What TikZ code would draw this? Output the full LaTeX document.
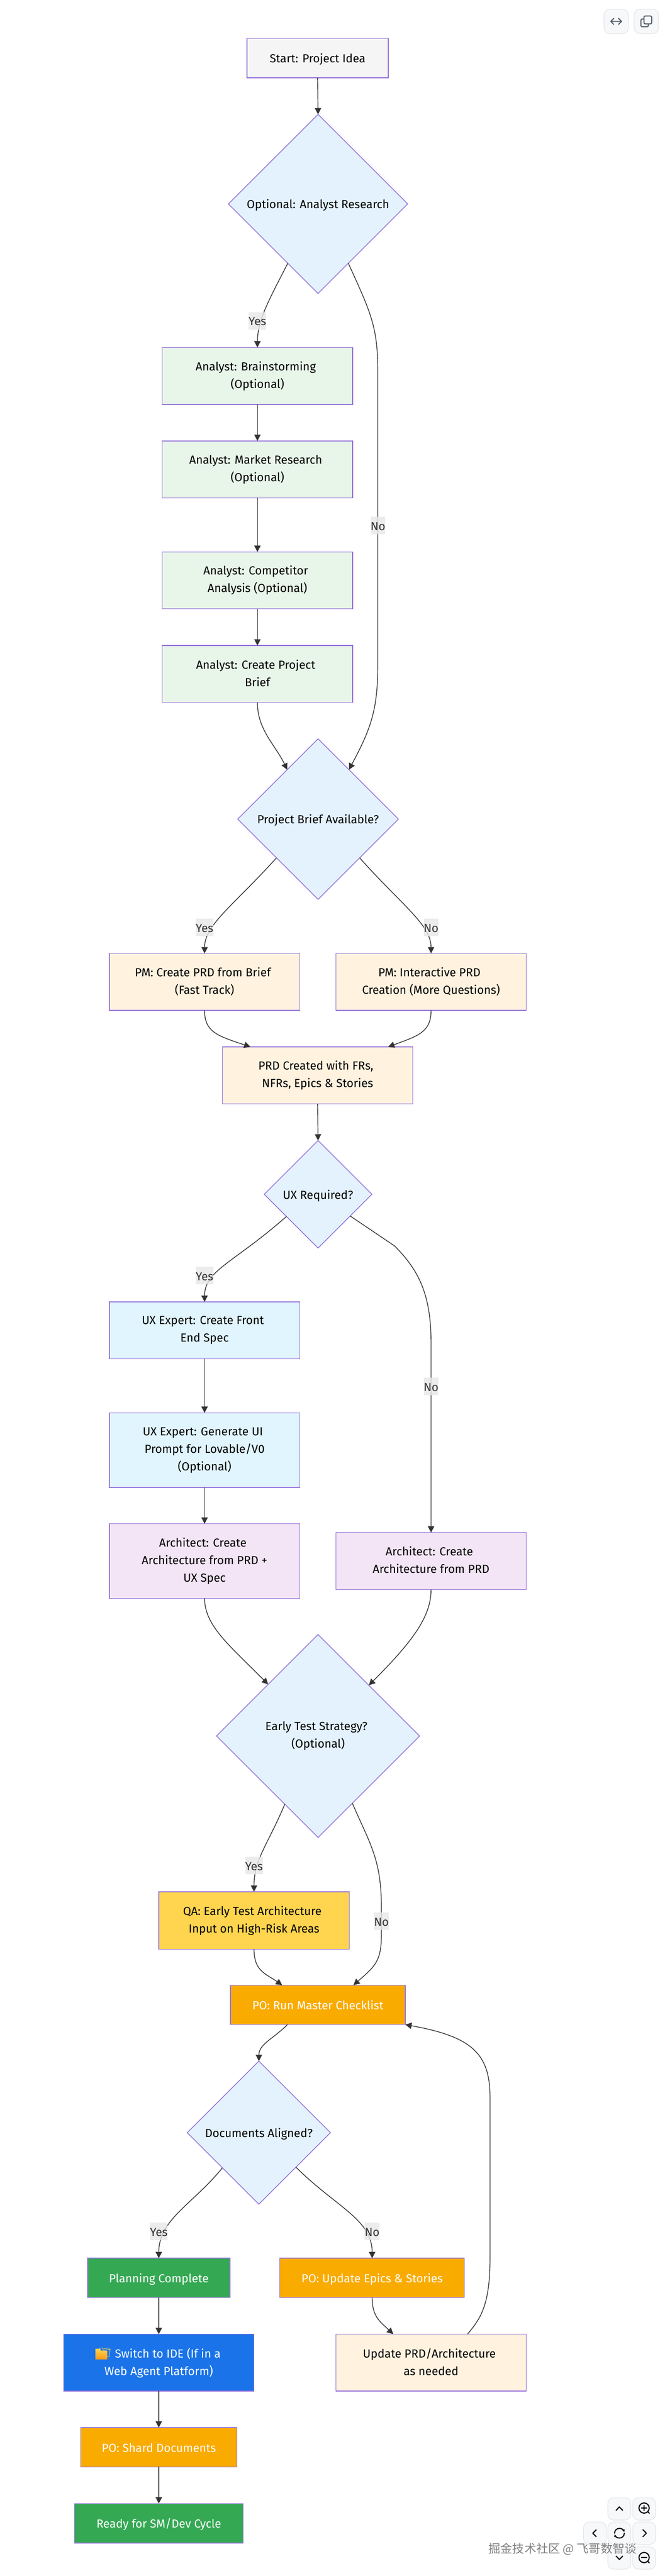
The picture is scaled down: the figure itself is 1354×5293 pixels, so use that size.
\documentclass[tikz,border=0pt]{standalone}
\usepackage{fontspec}
\setmainfont{Fira Sans}
\newfontfamily\cjkwm{Noto Sans CJK SC}
\newfontfamily\emojifont{Noto Emoji}
\usetikzlibrary{arrows.meta,shapes.geometric}
\definecolor{nodestroke}{HTML}{9370DB}
\definecolor{edgecol}{HTML}{333333}
\definecolor{cstart}{HTML}{F5F5F5}
\definecolor{cdec}{HTML}{E3F2FD}
\definecolor{cana}{HTML}{E8F5E9}
\definecolor{cpm}{HTML}{FFF3E0}
\definecolor{cux}{HTML}{E1F5FE}
\definecolor{carch}{HTML}{F3E5F5}
\definecolor{cqa}{HTML}{FFD54F}
\definecolor{cpo}{HTML}{F9AB00}
\definecolor{cgreen}{HTML}{34A853}
\definecolor{cblue}{HTML}{1A73E8}
\definecolor{btnfill}{HTML}{F6F8FA}
\definecolor{btnline}{HTML}{DFE2E5}
\definecolor{icogray}{HTML}{57606A}
\newcommand{\tsp}{\hspace*{7pt}}
\tikzset{
  every node/.style={font=\fontsize{24}{36}\selectfont},
  struts/.style={execute at begin node={\rule{0pt}{24pt}},execute at end node={\rule[-4pt]{0pt}{4pt}}},
  boxnode/.style={rectangle,draw=nodestroke,line width=1.5pt,inner sep=0pt,outer sep=0pt,align=center,text=black,struts},
  wide/.style={minimum width=391pt},
  hone/.style={minimum height=81pt},
  htwo/.style={minimum height=117pt},
  hthree/.style={minimum height=153pt},
  decnode/.style={diamond,aspect=1,draw=nodestroke,line width=1.5pt,fill=cdec,inner sep=0pt,outer sep=0pt,align=center,text=black,struts},
  edge/.style={draw=edgecol,line width=1.5pt,-{Triangle[length=13pt,width=13pt]}},
  edgelabel/.style={fill=black!9,fill opacity=.8,text opacity=1,text=edgecol,inner sep=0pt,outer sep=0pt,minimum height=36pt,struts},
  btn/.style={draw=btnline,fill=btnfill,line width=1pt,rounded corners=12pt},
  ico/.style={draw=black,line width=2.2pt,line cap=round,line join=round},
  icg/.style={draw=icogray,line width=2.2pt,line cap=round,line join=round},
}
\begin{document}
\begin{tikzpicture}[x=1pt,y=-1pt]
\useasboundingbox[fill=white] (0,0) rectangle (1354,5293);

% nodes
\node[boxnode,fill=cstart,minimum width=290pt,hone] (start) at (652,119.5) {Start: Project Idea};
\node[decnode,minimum width=368pt,minimum height=368pt] (d1) at (653,419) {Optional: Analyst Research};
\node[boxnode,fill=cana,wide,htwo] (b1) at (528.5,772.5) {Analyst: Brainstorming\tsp\\(Optional)};
\node[boxnode,fill=cana,wide,htwo] (b2) at (528.5,964.5) {Analyst: Market Research\tsp\\(Optional)};
\node[boxnode,fill=cana,wide,htwo] (b3) at (528.5,1192.5) {Analyst: Competitor\tsp\\Analysis (Optional)};
\node[boxnode,fill=cana,wide,htwo] (b4) at (528.5,1385) {Analyst: Create Project\tsp\\Brief};
\node[decnode,minimum width=330pt,minimum height=330pt] (d2) at (653,1683) {Project Brief Available?};
\node[boxnode,fill=cpm,wide,htwo] (pm1) at (420,2017.5) {PM: Create PRD from Brief\tsp\\(Fast Track)};
\node[boxnode,fill=cpm,wide,htwo] (pm2) at (885,2017.5) {PM: Interactive PRD\tsp\\Creation (More Questions)};
\node[boxnode,fill=cpm,wide,htwo] (prd) at (652,2209.5) {PRD Created with FRs,\tsp\\NFRs, Epics \& Stories};
\node[decnode,minimum width=221pt,minimum height=221pt] (dux) at (653,2454) {UX Required?};
\node[boxnode,fill=cux,wide,htwo] (ux1) at (420,2733.5) {UX Expert: Create Front\tsp\\End Spec};
\node[boxnode,fill=cux,wide,hthree] (ux2) at (420,2979.5) {UX Expert: Generate UI\tsp\\Prompt for Lovable/V0\tsp\\(Optional)};
\node[boxnode,fill=carch,wide,hthree] (ar1) at (420,3207.5) {Architect: Create\tsp\\Architecture from PRD +\\UX Spec};
\node[boxnode,fill=carch,wide,htwo] (ar2) at (885,3207.5) {Architect: Create\tsp\\Architecture from PRD};
\node[decnode,minimum width=417pt,minimum height=417pt] (dt) at (653,3567) {Early Test Strategy?\tsp\\(Optional)};
\node[boxnode,fill=cqa,wide,minimum height=118pt] (qa) at (521.5,3946) {QA: Early Test Architecture\tsp\\Input on High-Risk Areas};
\node[boxnode,fill=cpo,text=white,minimum width=359pt,hone] (run) at (652.5,4119.5) {PO: Run Master Checklist};
\node[decnode,minimum width=294pt,minimum height=294pt] (docs) at (531.5,4382) {Documents Aligned?};
\node[boxnode,fill=cgreen,text=white,minimum width=292pt,hone] (plan) at (326,4680.5) {Planning Complete};
\node[boxnode,fill=cpo,text=white,minimum width=379pt,hone] (upe) at (764,4680.5) {PO: Update Epics \& Stories};
\node[boxnode,fill=cblue,text=white,wide,htwo] (sw) at (326,4854.5) {{\emojifont\textcolor{cqa}{📁}} Switch to IDE (If in a\\Web Agent Platform)};
\node[boxnode,fill=cpm,wide,htwo] (upr) at (885,4854.5) {Update PRD/Architecture\tsp\\as needed};
\node[boxnode,fill=cpo,text=white,minimum width=321pt,hone] (shard) at (326,5028.5) {PO: Shard Documents};
\node[boxnode,fill=cgreen,text=white,minimum width=346pt,hone] (ready) at (326,5184.5) {Ready for SM/Dev Cycle};

% folder picture of the emoji
\shade[top color=cqa,bottom color=orange!70!cqa] (196,4848) -- (196,4826) -- (205,4826) -- (208,4830) -- (220,4830) -- (220,4848) -- cycle;

% edges
\draw[edge] (start.south) -- (d1.north);
\draw[edge] (d1.-117) .. controls (550,620) and (528.5,660) .. (b1.north);
\draw[edge] (d1.-63) .. controls (760,640) and (775.5,670) .. (775.5,760) -- (775.5,1370) .. controls (775.5,1460) and (760,1500) .. (d2.58);
\draw[edge] (b1.south) -- (b2.north);
\draw[edge] (b2.south) -- (b3.north);
\draw[edge] (b3.south) -- (b4.north);
\draw[edge] (b4.south) .. controls (528.5,1500) and (565,1530) .. (d2.122);
\draw[edge] (d2.-137) .. controls (480,1860) and (420,1900) .. (pm1.north);
\draw[edge] (d2.-43) .. controls (825,1860) and (885,1900) .. (pm2.north);
\draw[edge] (pm1.south) .. controls (420,2120) and (445,2128) .. (prd.157.6);
\draw[edge] (pm2.south) .. controls (885,2120) and (860,2128) .. (prd.22.4);
\draw[edge] (prd.south) -- (dux.north);
\draw[edge] (dux.-145.7) .. controls (480,2595) and (420,2610) .. (ux1.north);
\draw[edge] (dux.-34.3) -- (810,2560) .. controls (860,2610) and (885,2660) .. (885,2760) -- (ar2.north);
\draw[edge] (ux1.south) -- (ux2.north);
\draw[edge] (ux2.south) -- (ar1.north);
\draw[edge] (ar1.south) .. controls (420,3340) and (470,3380) .. (dt.134.3);
\draw[edge] (ar2.south) .. controls (885,3320) and (850,3370) .. (dt.45.7);
\draw[edge] (dt.-116.2) .. controls (550,3790) and (521.5,3820) .. (qa.north);
\draw[edge] (dt.-63.8) .. controls (760,3790) and (783,3820) .. (783,3920) -- (783,3975) .. controls (783,4030) and (770,4040) .. (run.29.2);
\draw[edge] (qa.south) .. controls (521.5,4050) and (545,4055) .. (run.151.8);
\draw[edge] (run.-147.5) .. controls (560,4190) and (531.5,4200) .. (docs.north);
\draw[edge] (docs.-136) .. controls (395,4530) and (326,4560) .. (plan.north);
\draw[edge] (docs.-43) .. controls (690,4535) and (764,4560) .. (upe.north);
\draw[edge] (plan.south) -- (sw.north);
\draw[edge] (sw.south) -- (shard.north);
\draw[edge] (shard.south) -- (ready.north);
\draw[edge] (upe.south) .. controls (764,4760) and (780,4770) .. (upr.143);
\draw[edge] (upr.38) .. controls (985,4765) and (1006,4740) .. (1006,4640) -- (1006,4310) .. controls (1006,4220) and (970,4185) .. (run.south east);

% edge labels
\node[edgelabel,minimum width=34pt] (ly1) at (528.5,659) {Yes};
\node[edgelabel,minimum width=28.5pt] (ln1) at (776,1080) {No};
\node[edgelabel,minimum width=34pt] (ly2) at (420,1905) {Yes};
\node[edgelabel,minimum width=28.5pt] (ln2) at (885,1905) {No};
\node[edgelabel,minimum width=34pt] (ly3) at (420,2621) {Yes};
\node[edgelabel,minimum width=28.5pt] (ln3) at (885,2849) {No};
\node[edgelabel,minimum width=34pt] (ly4) at (521.5,3833) {Yes};
\node[edgelabel,minimum width=28.5pt] (ln4) at (783,3947) {No};
\node[edgelabel,minimum width=34pt] (ly5) at (326,4585) {Yes};
\node[edgelabel,minimum width=28.5pt] (ln5) at (764,4585) {No};

% toolbar buttons
\path[btn] (1240,19) rectangle (1290,69);
\path[btn] (1302,19) rectangle (1352,69);
\draw[icg] (1254,44) -- (1276,44) (1260,38) -- (1254,44) -- (1260,50) (1270,38) -- (1276,44) -- (1270,50);
\draw[icg,rounded corners=2.5pt] (1322,33) rectangle (1338,49);
\draw[icg,rounded corners=2.5pt] (1321,39) -- (1316,39) -- (1316,55) -- (1331,55) -- (1331,50);

\path[btn] (1248,5132) rectangle (1295,5178);
\path[btn] (1299,5132) rectangle (1346,5178);
\path[btn] (1198,5182) rectangle (1245,5228);
\path[btn] (1248,5182) rectangle (1295,5228);
\path[btn] (1299,5182) rectangle (1346,5228);
\path[btn] (1248,5233) rectangle (1295,5279);
\path[btn] (1299,5233) rectangle (1346,5279);
\draw[ico] (1265,5158) -- (1271.5,5151) -- (1278.5,5158);
\draw[ico] (1224,5198) -- (1217,5205) -- (1224,5212);
\draw[ico] (1320,5198) -- (1327,5205) -- (1320,5212);
\draw[ico] (1265,5252) -- (1271.5,5259) -- (1278.5,5252);
\draw[ico] (1322.3,5153.3) circle[radius=10.5pt] (1330,5161) -- (1333,5164) (1317,5153.3) -- (1327.6,5153.3) (1322.3,5148) -- (1322.3,5158.6);
\draw[ico] (1322.3,5255) circle[radius=10.5pt] (1330,5263) -- (1333,5266) (1317,5255) -- (1327.6,5255);
\draw[ico,-{Stealth[length=5pt,width=6pt]}] (1261.7,5205) arc[start angle=180,end angle=15,radius=10pt];
\draw[ico,-{Stealth[length=5pt,width=6pt]}] (1281.7,5205) arc[start angle=0,end angle=-165,radius=10pt];

% watermark
\node[text=black!50,inner sep=0pt,anchor=west,font=\fontsize{24.5}{30}\selectfont] (wm) at (1003,5238) {\cjkwm 掘金技术社区 @ 飞哥数智谈};
\end{tikzpicture}
\end{document}
